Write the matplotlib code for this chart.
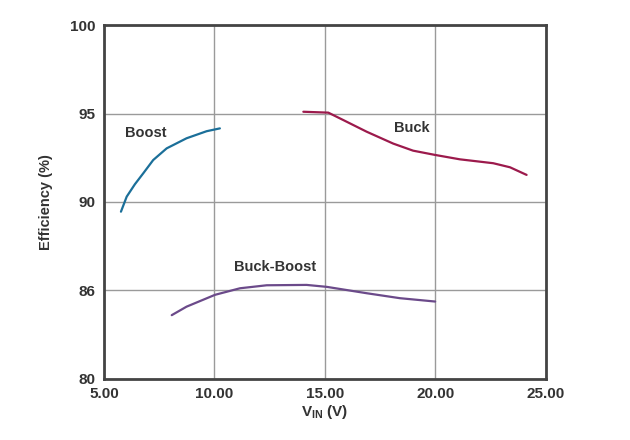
import numpy as np
import matplotlib
matplotlib.use('Agg')
from matplotlib import pyplot as plt

# values
boost_v = [5.77, 6.03, 6.4, 6.78, 7.23, 7.84, 8.74, 9.65, 10.25]
boost_eff = [89.45, 90.3, 91.0, 91.62, 92.37, 93.03, 93.6, 94.0, 94.16]

buck_v = [14.03, 15.16, 15.84, 16.9, 18.1, 19.0, 19.99, 21.12, 22.63, 23.39, 24.14]
buck_eff = [95.1, 95.05, 94.63, 93.97, 93.3, 92.9, 92.66, 92.41, 92.19, 91.96, 91.53]

bb_v = [8.07, 8.74, 10.03, 11.16, 12.37, 14.18, 15.09, 16.9, 18.4, 20.0]
bb_eff = [83.6, 84.08, 84.75, 85.12, 85.29, 85.31, 85.2, 84.84, 84.56, 84.37]

xticks = [5, 10, 15, 20, 25]
xticklabels = ['5.00', '10.00', '15.00', '20.00', '25.00']
yticks = [80, 85, 90, 95, 100]
yticklabels = ['80', '86', '90', '95', '100']

plt.rcParams['font.family'] = ['Liberation Sans', 'DejaVu Sans']

fg = plt.figure(figsize=(6.3, 4.4), dpi=100)
ax = fg.add_axes([0.165, 0.139, 0.701, 0.804])

for v, e, c in [(boost_v, boost_eff, '#1b6f99'), (buck_v, buck_eff, '#9c1a4c'), (bb_v, bb_eff, '#6b4a8a')]:
    ax.plot(v, e, color=c, lw=1.6, solid_capstyle='round', solid_joinstyle='round')

ax.text(6.9, 93.9, 'Boost', fontsize=10.5, fontweight='bold', color='#333333', ha='center', va='center')
ax.text(18.95, 94.18, 'Buck', fontsize=10.5, fontweight='bold', color='#333333', ha='center', va='center')
ax.text(12.74, 86.33, 'Buck-Boost', fontsize=10.5, fontweight='bold', color='#333333', ha='center', va='center')

ax.set_xlim(5, 25)
ax.set_ylim(80, 100)
ax.set_xticks(xticks)
ax.set_xticklabels(xticklabels)
ax.set_yticks(yticks)
ax.set_yticklabels(yticklabels)
ax.tick_params(length=0, labelsize=11, colors='#333333')
ax.tick_params(axis='x', pad=6)
ax.tick_params(axis='y', pad=6)
for lab in ax.get_xticklabels() + ax.get_yticklabels():
    lab.set_fontweight('bold')
ax.grid(True, color='#9a9a9a', lw=1.0)
ax.set_axisbelow(True)
for s in ax.spines.values():
    s.set_color('#444444')
    s.set_linewidth(2.0)

ax.set_xlabel(r'V$_{\mathregular{IN}}$ (V)', fontsize=11, fontweight='bold', color='#333333', labelpad=1)
ax.set_ylabel('Efficiency (%)', fontsize=10.5, fontweight='bold', color='#333333', labelpad=12)

fg.savefig('out.png', dpi=100)
